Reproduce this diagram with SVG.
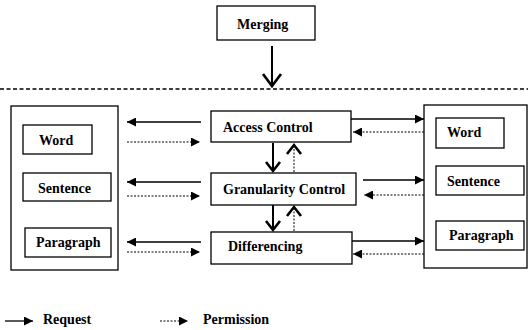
<svg xmlns="http://www.w3.org/2000/svg" width="528" height="330" viewBox="0 0 528 330">
<defs>
<style>
.box{fill:#fff;stroke:#000;stroke-width:1.3}
.t{font-family:"Liberation Serif","Times New Roman",serif;font-weight:bold;font-size:14px;fill:#000}
.req{stroke:#000;stroke-width:1.3;fill:none}
.perm{stroke:#000;stroke-width:1;stroke-dasharray:2 1.5;fill:none}
.vreq{stroke:#000;stroke-width:2;fill:none}
.vperm{stroke:#000;stroke-width:1;stroke-dasharray:2 1.5;fill:none}
.chev{stroke:#000;stroke-width:2.6;fill:none;stroke-linecap:butt;stroke-linejoin:miter}
</style>
<marker id="tri" viewBox="0 0 10 10" refX="10" refY="5" markerWidth="11" markerHeight="9" markerUnits="userSpaceOnUse" orient="auto">
<path d="M0,0 L10,5 L0,10 Z" fill="#000"/>
</marker>
</defs>
<rect width="528" height="330" fill="#fff"/>

<g id="merging"><rect class="box" x="217" y="6" width="98" height="34"/><text class="t" x="237" y="29">Merging</text></g>

<line x1="0" y1="89" x2="528" y2="89" stroke="#000" stroke-width="1.3" stroke-dasharray="4 2.5"/>

<g id="left-doc"><rect class="box" x="11" y="106" width="107" height="164"/></g>
<g id="left-word"><rect class="box" x="23" y="125" width="69" height="29"/><text class="t" x="39" y="145">Word</text></g>
<g id="left-sentence"><rect class="box" x="23" y="173" width="88" height="28"/><text class="t" x="38" y="193">Sentence</text></g>
<g id="left-paragraph"><rect class="box" x="25" y="228" width="86" height="29"/><text class="t" x="36" y="247">Paragraph</text></g>

<g id="access-control"><rect class="box" x="211" y="111" width="140" height="31"/><text class="t" x="223" y="132">Access Control</text></g>
<g id="granularity-control"><rect class="box" x="211" y="173" width="145" height="32"/><text class="t" x="223" y="194">Granularity Control</text></g>
<g id="differencing"><rect class="box" x="211" y="232" width="141" height="32"/><text class="t" x="228" y="251">Differencing</text></g>

<g id="right-doc"><rect class="box" x="424" y="105" width="103" height="163"/></g>
<g id="right-word"><rect class="box" x="436" y="118" width="68" height="30"/><text class="t" x="447" y="137">Word</text></g>
<g id="right-sentence"><rect class="box" x="436" y="166" width="88" height="29"/><text class="t" x="447" y="186">Sentence</text></g>
<g id="right-paragraph"><rect class="box" x="436" y="221" width="88" height="29"/><text class="t" x="449" y="240">Paragraph</text></g>

<g id="connectors">
<line class="vreq" x1="272" y1="46" x2="272" y2="86"/>
<polyline class="chev" points="263,74 272,86 281,74"/>

<line class="req" x1="201" y1="122" x2="127" y2="122" marker-end="url(#tri)"/>
<line class="perm" x1="127" y1="142" x2="200" y2="142" marker-end="url(#tri)"/>
<line class="req" x1="201" y1="182" x2="127" y2="182" marker-end="url(#tri)"/>
<line class="perm" x1="127" y1="196" x2="200" y2="196" marker-end="url(#tri)"/>
<line class="req" x1="201" y1="242" x2="127" y2="242" marker-end="url(#tri)"/>
<line class="perm" x1="127" y1="252" x2="200" y2="252" marker-end="url(#tri)"/>

<line class="req" x1="351" y1="119" x2="424" y2="119" marker-end="url(#tri)"/>
<line class="perm" x1="424" y1="132" x2="353" y2="132" marker-end="url(#tri)"/>
<line class="req" x1="363" y1="180" x2="424" y2="180" marker-end="url(#tri)"/>
<line class="perm" x1="424" y1="195" x2="364" y2="195" marker-end="url(#tri)"/>
<line class="req" x1="352" y1="241" x2="424" y2="241" marker-end="url(#tri)"/>
<line class="perm" x1="424" y1="254" x2="353" y2="254" marker-end="url(#tri)"/>

<line class="vreq" x1="273" y1="143" x2="273" y2="171"/>
<polyline class="chev" points="266,162 273,171 280,162"/>
<line class="vperm" x1="294" y1="172" x2="294" y2="145"/>
<polyline class="chev" points="287,154 294,145 301,154"/>
<line class="vreq" x1="273" y1="205" x2="273" y2="230"/>
<polyline class="chev" points="266,221 273,230 280,221"/>
<line class="vperm" x1="294" y1="231" x2="294" y2="207"/>
<polyline class="chev" points="287,216 294,207 301,216"/>
</g>

<g id="legend">
<line class="req" x1="5" y1="321" x2="33" y2="321" marker-end="url(#tri)"/>
<text class="t" x="43" y="324">Request</text>
<line class="perm" x1="160" y1="321" x2="188" y2="321" marker-end="url(#tri)"/>
<text class="t" x="203" y="324">Permission</text>
</g>
</svg>
